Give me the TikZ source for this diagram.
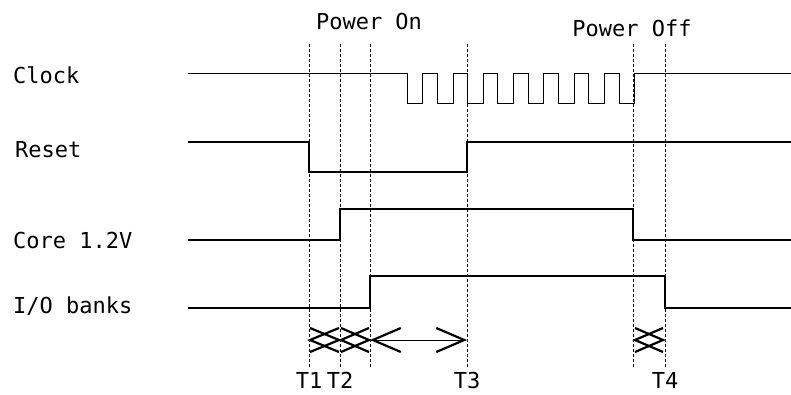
\documentclass[tikz,border=0pt]{standalone}
\usepackage{fontspec}
\setmonofont{DejaVu Sans Mono}
\usetikzlibrary{positioning,arrows.meta}

\tikzset{
  txt/.style={inner sep=0pt, font=\ttfamily\fontsize{22}{22}\selectfont},
  siglabel/.style={txt, anchor=west},
  tlabel/.style={txt, anchor=north},
  wave/.style={line width=1.6pt},
  clk/.style={line width=1pt},
  marker/.style={line width=0.5pt, dash pattern=on 3pt off 2pt},
  skew/.style={line width=2.2pt},
  barb/.tip={Straight Barb[length=28pt,width=24pt,line width=2.2pt]},
}

\begin{document}
\begin{tikzpicture}[x=1pt,y=-1pt]
\useasboundingbox (0,0) rectangle (791,395);

%% time markers
\foreach \name/\x in {tA/309, tB/340, tC/370, tD/467, tE/633, tF/665}{
  \coordinate (\name-top) at (\x,44);
  \coordinate (\name-bot) at (\x,368);
  \draw[marker] (\name-top) -- (\name-bot);
}

%% titles
\node[txt] (pwron) at (369,21) {Power On};
\node[txt] (pwroff) at (632,28) {Power Off};

%% signal names
\node[siglabel] (clock) at (13,75) {Clock};
\node[siglabel] (reset) at (15,150) {Reset};
\node[siglabel] (core) at (13,240) {Core 1.2V};
\node[siglabel] (iob) at (13,306) {I/O banks};

%% waveforms
\draw[clk] (188,74) foreach \i in {0,...,7}{
    -- ({407+30.3*\i},74) -- ++(0,30) -- ++(15.7,0) -- ++(0,-30)
  } -- (791,74);
\draw[wave] (188,142) -- (309,142) -- (309,172) -- (467,172) -- (467,142) -- (791,142);
\draw[wave] (188,240) -- (340,240) -- (340,209) -- (633,209) -- (633,240) -- (791,240);
\draw[wave] (188,308) -- (370,308) -- (370,276) -- (665,276) -- (665,308) -- (791,308);

%% skew marks
\foreach \l/\r in {310/339, 341/369, 635/663}{
  \draw[skew] (\l,328) -- (\r,340) -- (\l,352);
  \draw[skew] (\r,328) -- (\l,340) -- (\r,352);
}

%% span T2..T3
\coordinate (spanl) at (370,340);
\coordinate (spanr) at (467,340);
\draw[barb-barb, line width=0.6pt] (spanl) -- (spanr);

%% time labels
\node[tlabel, below=4pt of tA-bot] (t1) {T1};
\node[tlabel, below=4pt of tB-bot] (t2) {T2};
\node[tlabel, below=4pt of tD-bot] (t3) {T3};
\node[tlabel, below=4pt of tF-bot] (t4) {T4};

\end{tikzpicture}
\end{document}
